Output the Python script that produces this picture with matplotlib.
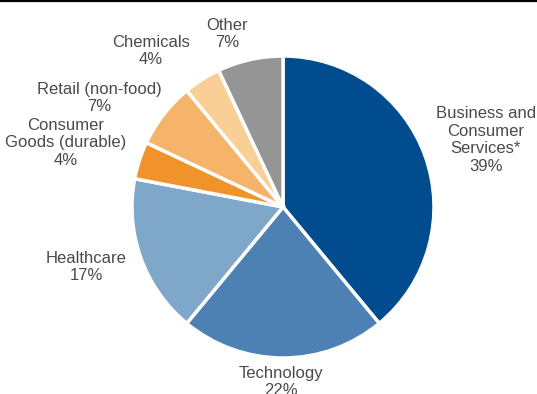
import matplotlib
matplotlib.use('Agg')
import matplotlib.pyplot as plt
from matplotlib.lines import Line2D

plt.rcParams['font.family'] = ['Liberation Sans', 'DejaVu Sans']

# Sector breakdown
sectors = ['Business and\nConsumer\nServices*', 'Technology', 'Healthcare',
           'Consumer\nGoods (durable)', 'Retail (non-food)', 'Chemicals', 'Other']
shares = [39, 22, 17, 4, 7, 4, 7]
colors = ['#004C8F', '#4E81B3', '#7FA7C9', '#F0932B', '#F5B46A', '#F9CF95', '#959595']

# label anchors, in pie radii from the centre
label_xy = [(1.344, 0.444), (-0.013, -1.16), (-1.305, -0.397), (-1.437, 0.424),
            (-1.219, 0.722), (-0.874, 1.033), (-0.371, 1.146)]

W, H = 537, 394
cx, cy, r = 283, 187, 151  # pie centre (px from bottom-left) and radius

fig = plt.figure(figsize=(W / 100, H / 100), dpi=100)
ax = fig.add_axes([0, 0, 1, 1])
wedges, _ = ax.pie(shares, colors=colors, startangle=90, counterclock=False,
                   wedgeprops=dict(edgecolor='white', linewidth=2.5))
ax.set_xlim(-cx / r, (W - cx) / r)
ax.set_ylim(-cy / r, (H - cy) / r)
ax.set_aspect('equal')
ax.axis('off')

for name, pct, (lx, ly) in zip(sectors, shares, label_xy):
    ax.text(lx, ly, f'{name}\n{pct}%', ha='center', va='center',
            fontsize=12, color='#4a4a4a', linespacing=1.22)

# rule along the top edge
fig.add_artist(Line2D([0, 1], [0.998, 0.998], transform=fig.transFigure,
                      color='black', linewidth=1.6))

fig.savefig('out.png', dpi=100)
